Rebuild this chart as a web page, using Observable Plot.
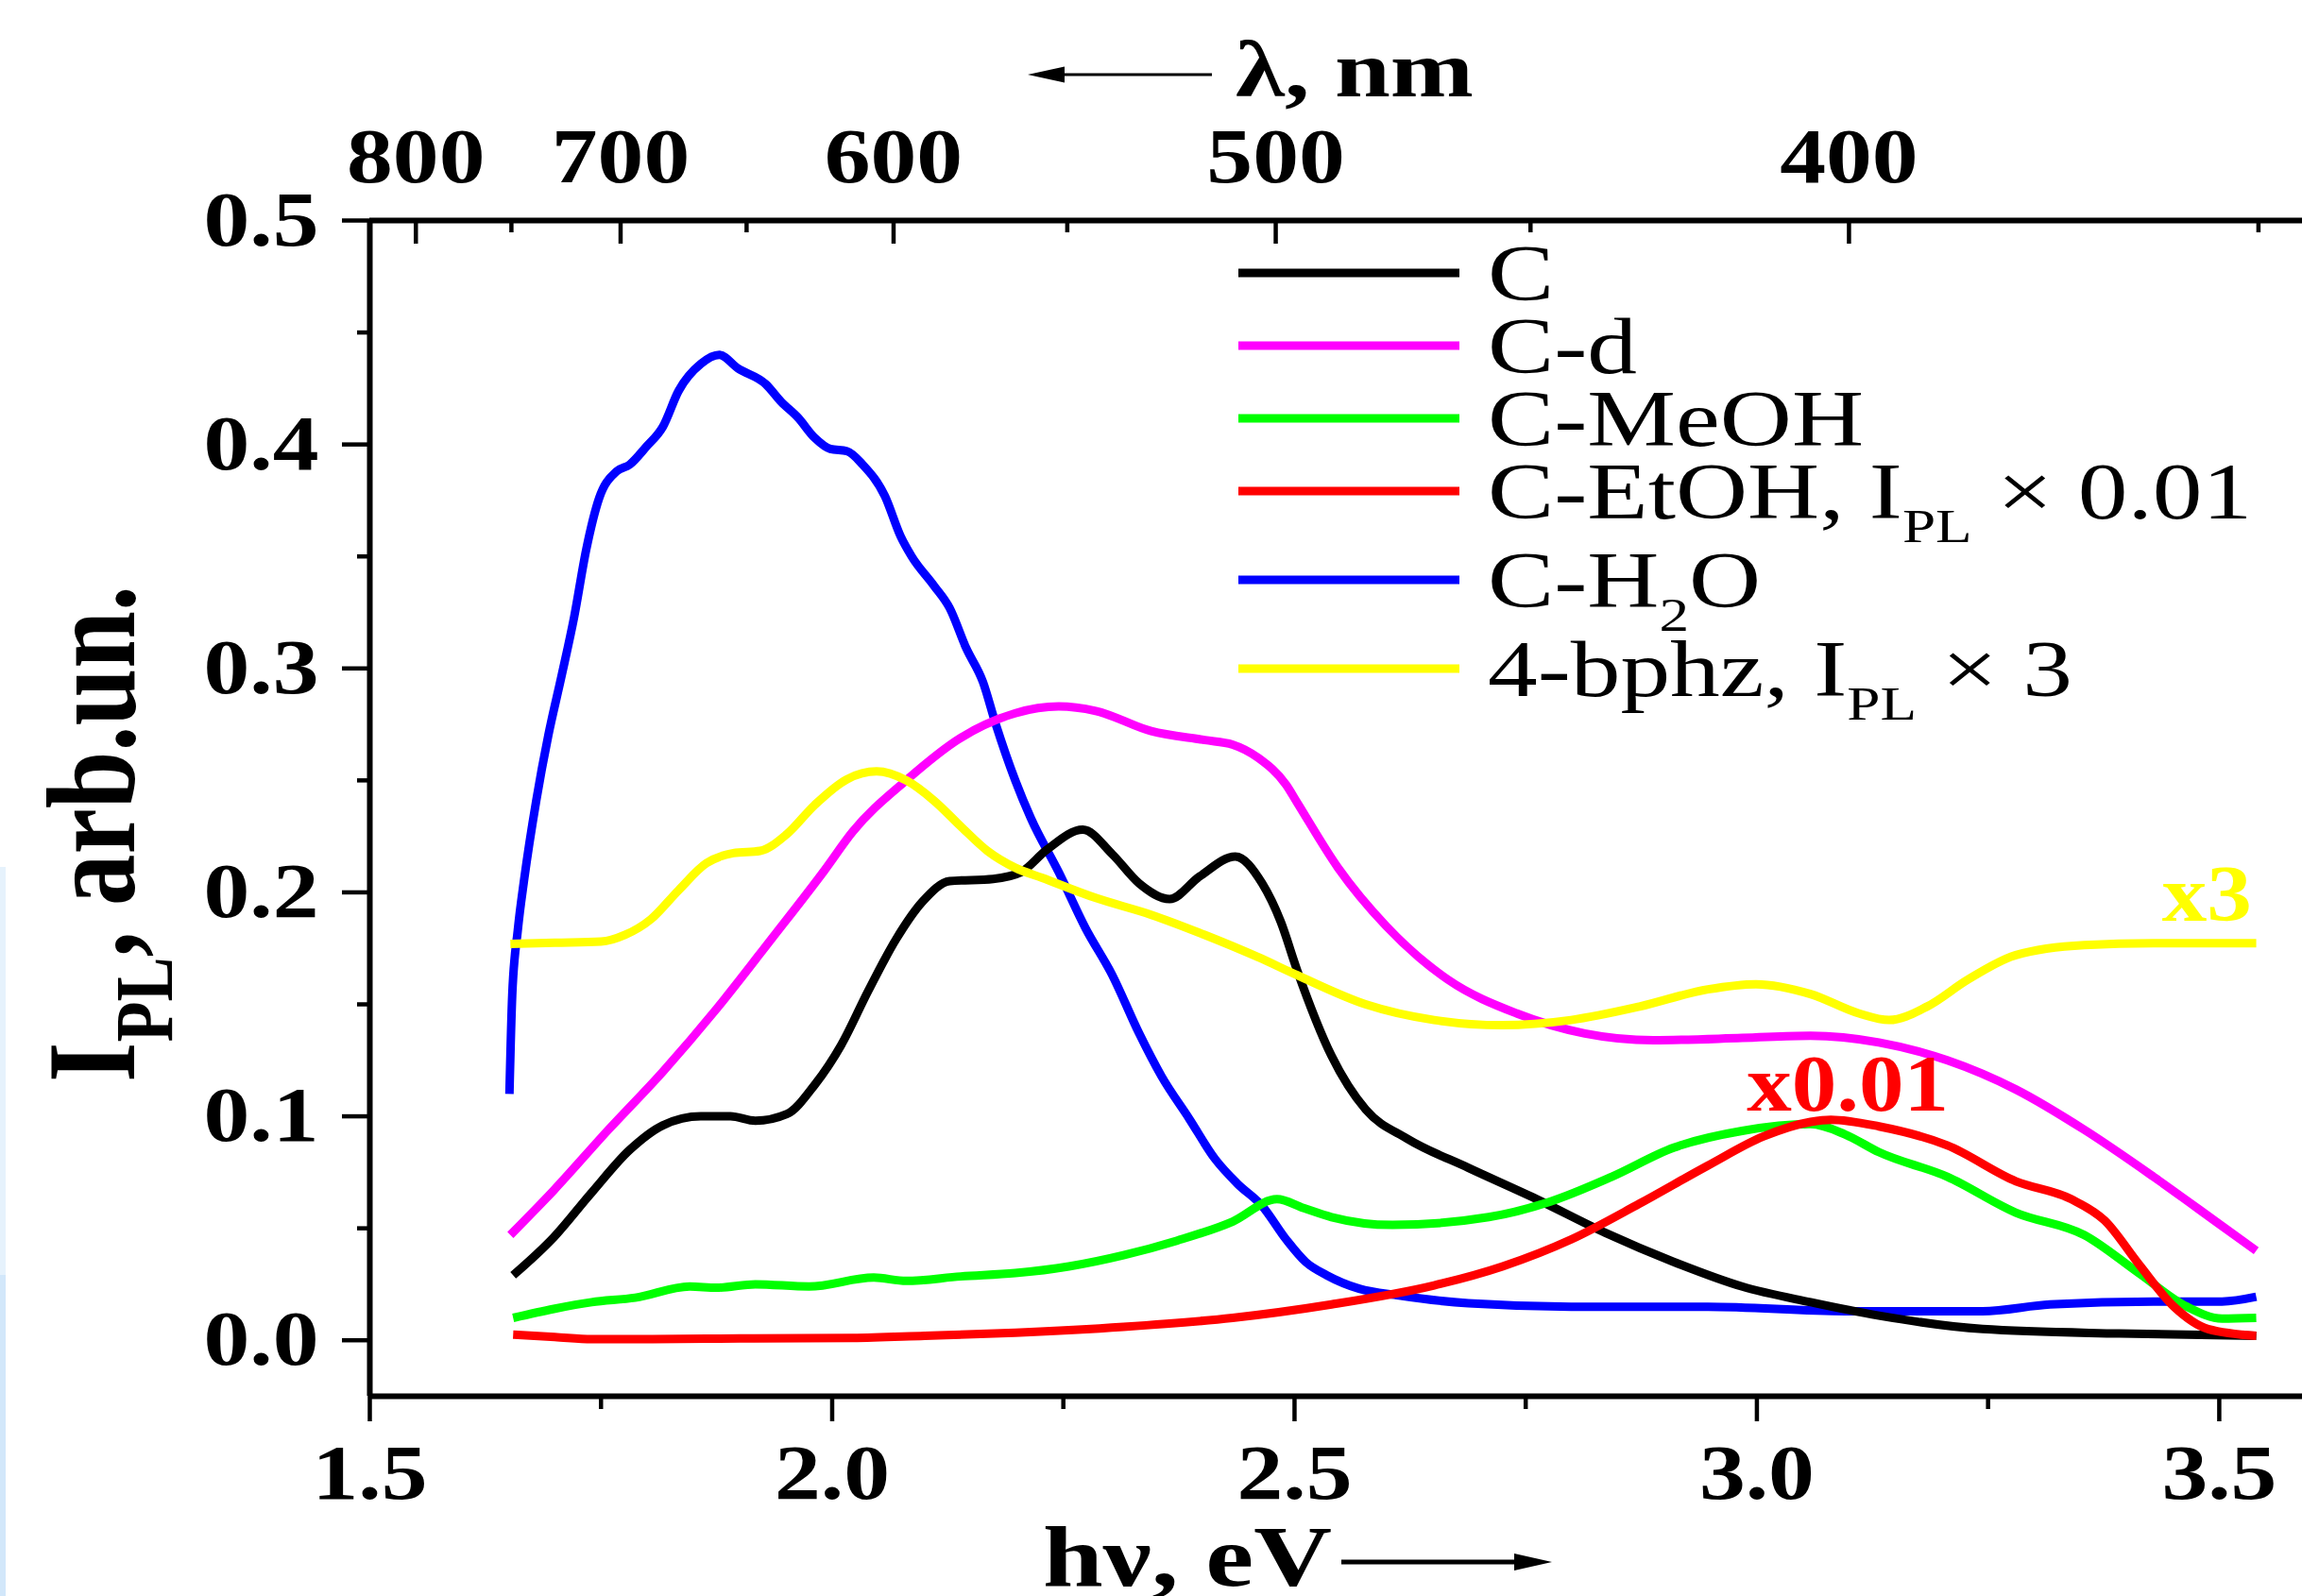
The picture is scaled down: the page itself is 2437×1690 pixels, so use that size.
<!DOCTYPE html>
<html>
<head>
<meta charset="utf-8">
<script src="https://cdn.jsdelivr.net/npm/d3@7"></script>
<script src="https://cdn.jsdelivr.net/npm/@observablehq/plot@0.6"></script>
<style>
  html, body { margin: 0; padding: 0; background: #ffffff; overflow: hidden; }
  #chart { width: 2437px; height: 1690px; overflow: hidden; }
</style>
</head>
<body>
<div id="chart"></div>
<script>
// ---------- data ----------
const HC = 1239.84; // eV·nm

const seriesNames = ["C", "C-d", "C-MeOH", "C-EtOH, I_{PL} × 0.01", "C-H_{2}O", "4-bphz, I_{PL} × 3"];
const seriesColors = ["#000000", "#ff00ff", "#00ff00", "#ff0000", "#0000ff", "#ffff00"];

const ev_C = [1.655,1.699,1.740,1.781,1.817,1.858,1.890,1.917,1.951,1.981,2.010,2.039,2.069,2.098,2.127,2.174,2.204,2.232,2.271,2.303,2.332,2.365,2.397,2.436,2.465,2.485,2.503,2.540,2.577,2.622,2.688,2.762,2.836,2.910,2.984,3.058,3.132,3.244,3.392,3.540];
const int_C = [0.029,0.046,0.066,0.085,0.096,0.100,0.100,0.098,0.101,0.114,0.132,0.156,0.179,0.196,0.205,0.206,0.209,0.219,0.228,0.217,0.204,0.197,0.207,0.216,0.204,0.187,0.165,0.127,0.103,0.090,0.077,0.063,0.048,0.035,0.024,0.017,0.011,0.005,0.003,0.002];

const ev_Cd = [1.652,1.699,1.758,1.817,1.875,1.934,1.992,2.022,2.080,2.139,2.198,2.245,2.285,2.345,2.403,2.433,2.461,2.491,2.503,2.547,2.599,2.666,2.740,2.814,2.888,2.984,3.058,3.132,3.206,3.280,3.354,3.429,3.503,3.540];
const int_Cd = [0.047,0.067,0.094,0.120,0.148,0.179,0.210,0.227,0.250,0.269,0.280,0.283,0.281,0.272,0.268,0.266,0.260,0.248,0.240,0.211,0.185,0.161,0.146,0.137,0.134,0.135,0.136,0.133,0.125,0.112,0.094,0.073,0.051,0.040];

const ev_MeOH = [1.655,1.699,1.740,1.787,1.846,1.875,1.917,1.975,2.045,2.080,2.139,2.198,2.256,2.315,2.373,2.433,2.481,2.510,2.540,2.606,2.710,2.777,2.843,2.910,2.984,3.058,3.095,3.132,3.206,3.280,3.354,3.413,3.465,3.503,3.540];
const int_MeOH = [0.010,0.014,0.017,0.019,0.024,0.0235,0.025,0.024,0.028,0.0265,0.0285,0.030,0.033,0.038,0.0445,0.053,0.063,0.059,0.055,0.0515,0.055,0.062,0.073,0.086,0.0935,0.0965,0.092,0.084,0.073,0.057,0.047,0.030,0.015,0.0097,0.010];

const ev_EtOH = [1.655,1.700,1.740,1.800,1.900,2.022,2.100,2.198,2.315,2.433,2.540,2.651,2.725,2.799,2.873,2.947,3.007,3.058,3.080,3.132,3.206,3.280,3.340,3.376,3.413,3.451,3.488,3.540];
const int_EtOH = [0.0025,0.0015,0.0005,0.0005,0.0008,0.001,0.002,0.0034,0.006,0.010,0.016,0.0245,0.033,0.045,0.061,0.078,0.091,0.0975,0.0985,0.0955,0.087,0.071,0.063,0.0535,0.034,0.015,0.005,0.002];

const ev_H2O = [1.651,1.654,1.660,1.667,1.680,1.693,1.707,1.721,1.734,1.748,1.767,1.781,1.799,1.817,1.834,1.858,1.878,1.898,1.928,1.945,1.963,1.981,1.998,2.016,2.033,2.057,2.074,2.086,2.110,2.127,2.145,2.163,2.177,2.198,2.215,2.245,2.274,2.303,2.332,2.356,2.386,2.414,2.438,2.465,2.491,2.512,2.535,2.570,2.613,2.688,2.799,2.947,3.095,3.244,3.317,3.429,3.503,3.540];
const int_H2O = [0.110,0.154,0.183,0.206,0.241,0.270,0.296,0.323,0.353,0.376,0.388,0.391,0.399,0.408,0.424,0.436,0.440,0.434,0.427,0.419,0.412,0.403,0.398,0.397,0.391,0.377,0.359,0.350,0.337,0.327,0.309,0.294,0.275,0.250,0.233,0.209,0.184,0.163,0.137,0.118,0.099,0.081,0.070,0.060,0.045,0.035,0.029,0.023,0.020,0.0165,0.015,0.015,0.013,0.013,0.016,0.0173,0.0173,0.0194];

const ev_bphz = [1.652,1.700,1.750,1.776,1.804,1.834,1.864,1.893,1.922,1.951,1.981,2.016,2.048,2.080,2.110,2.139,2.168,2.198,2.227,2.285,2.345,2.403,2.461,2.503,2.577,2.651,2.725,2.799,2.873,2.947,2.999,3.058,3.110,3.143,3.184,3.228,3.280,3.354,3.429,3.540];
const int_bphz = [0.177,0.1775,0.178,0.181,0.188,0.201,0.213,0.2175,0.2185,0.226,0.239,0.2505,0.254,0.250,0.241,0.2295,0.2185,0.211,0.2065,0.1975,0.190,0.181,0.171,0.163,0.150,0.143,0.1407,0.143,0.149,0.1567,0.159,0.1546,0.146,0.143,0.149,0.161,0.172,0.1765,0.1773,0.1773];

const xDomain = [1.5, 3.59];
const yDomain = [-0.025, 0.5];
const xMajor = [1.5, 2.0, 2.5, 3.0, 3.5];
const xMinor = [1.75, 2.25, 2.75, 3.25];
const yMajor = [0.0, 0.1, 0.2, 0.3, 0.4, 0.5];
const yMinor = [0.05, 0.15, 0.25, 0.35, 0.45];
const nmMajor = [800, 700, 600, 500, 400];
const nmMinor = [750, 650, 550, 450, 350];

const annotations = [
  {label: "x3", ev: 3.438, I: 0.1874, color: "#ffff00"},
  {label: "x0.01", ev: 2.989, I: 0.1024, color: "#ff0000"}
];

// ---------- table ----------
const seriesData = [
  {name: seriesNames[0], color: seriesColors[0], ev: ev_C, I: int_C},
  {name: seriesNames[1], color: seriesColors[1], ev: ev_Cd, I: int_Cd},
  {name: seriesNames[2], color: seriesColors[2], ev: ev_MeOH, I: int_MeOH},
  {name: seriesNames[3], color: seriesColors[3], ev: ev_EtOH, I: int_EtOH},
  {name: seriesNames[4], color: seriesColors[4], ev: ev_H2O, I: int_H2O},
  {name: seriesNames[5], color: seriesColors[5], ev: ev_bphz, I: int_bphz}
];
const rows = seriesData.flatMap(s => s.ev.map((e, i) => ({series: s.name, ev: e, I: s.I[i]})));
const drawOrder = [4, 0, 1, 2, 3, 5];

// ---------- fonts ----------
function fontAvailable(name) {
  const ctx = document.createElement("canvas").getContext("2d");
  const s = "abcdefghijklmnopqrstuvwxyz ABCDEFGHIJKLMNOP 0123456789 C-MeOH";
  return ["monospace", "sans-serif", "serif"].some(fb => {
    ctx.font = `72px ${fb}`; const a = ctx.measureText(s).width;
    ctx.font = `72px '${name}', ${fb}`; const b = ctx.measureText(s).width;
    return Math.abs(a - b) > 0.5;
  });
}
const hasLib = fontAvailable("Liberation Serif");
const FONT = hasLib ? "'Liberation Serif', 'Times New Roman', serif" : "'DejaVu Serif', serif";
const CAP = hasLib ? 0.662 : 0.729; // cap / digit height as fraction of font size

const tickSizeFont = Math.round(54 / CAP);
const annoFont = Math.round(56 / CAP);
const legendFont = Math.round(56 / CAP);
const legendSub = Math.round(34 / CAP);
const topFont = Math.round(56 / CAP);
const bottomFont = Math.round(60 / CAP);
const yTitleFont = Math.round(88 / CAP);
const yTitleSub = Math.round(57 / CAP);

// ---------- layout ----------
const W = 2437, H = 1690;
const mTop = 233, mBottom = 212, mLeft = 391, mRight = 0;
const plotH = H - mTop - mBottom;
const toEV = nm => HC / nm;

function richText(t, str, baseSize, subSize, shift) {
  const parts = str.split(/(_\{[^}]*\})/).filter(p => p.length);
  let shifted = false;
  for (const p of parts) {
    const m = p.match(/^_\{(.*)\}$/);
    if (m) {
      t.append("tspan").attr("font-size", subSize).attr("dy", shift).text(m[1]);
      shifted = true;
    } else {
      const s = t.append("tspan").attr("font-size", baseSize).text(p);
      if (shifted) { s.attr("dy", -shift); shifted = false; }
    }
  }
}

function legendMark(index, scales, values, dims) {
  const g = d3.create("svg:g").attr("class", "own").attr("font-family", FONT)
    .attr("font-weight", "normal").attr("text-anchor", "start");
  let base = dims.marginTop + 84.5;
  seriesNames.forEach((name, i) => {
    if (i > 0) base += 77 + (seriesNames[i - 1].includes("_{") ? 17 : 0);
    g.append("line")
      .attr("x1", 1311).attr("x2", 1545)
      .attr("y1", base - 28.5).attr("y2", base - 28.5)
      .attr("stroke", seriesColors[i]).attr("stroke-width", 9);
    const t = g.append("text").attr("class", "legend-text")
      .attr("transform", `translate(1575,${base})`)
      .attr("font-size", legendFont).attr("fill", "#000").style("white-space", "pre");
    richText(t, name, legendFont, legendSub, 25);
  });
  return g.node();
}

function titlesMark(index, scales, values, dims) {
  const g = d3.create("svg:g").attr("class", "own").attr("font-family", FONT)
    .attr("font-weight", "bold").attr("fill", "#000").attr("text-anchor", "start");
  // light strip at the left edge of the original picture
  g.append("rect").attr("x", 0).attr("y", 918).attr("width", 6).attr("height", 432).attr("fill", "#e6f2fc");
  g.append("rect").attr("x", 0).attr("y", 1350).attr("width", 6).attr("height", 340).attr("fill", "#d2e7fa");
  // top title with arrow pointing left
  g.append("line").attr("x1", 1283).attr("x2", 1115).attr("y1", 79).attr("y2", 79).attr("stroke", "#000").attr("stroke-width", 3);
  g.append("path").attr("d", "M1088,79L1127,70.5L1127,87.5Z");
  g.append("text").attr("id", "top-title").attr("transform", "translate(1308,102)")
    .attr("font-size", topFont).style("white-space", "pre").text("λ, nm");
  // bottom title with arrow pointing right
  g.append("text").attr("id", "bottom-title").attr("transform", "translate(1104,1679)")
    .attr("font-size", bottomFont).style("white-space", "pre").text("hν, eV");
  g.append("line").attr("x1", 1420).attr("x2", 1612).attr("y1", 1654).attr("y2", 1654).attr("stroke", "#000").attr("stroke-width", 5);
  g.append("path").attr("d", "M1643,1654L1603,1645L1603,1663Z");
  // y title (rotated)
  const t = g.append("text").attr("id", "y-title")
    .attr("transform", "translate(142,883) rotate(-90)")
    .attr("text-anchor", "middle").attr("font-size", yTitleFont).style("white-space", "pre");
  richText(t, "I_{PL}, arb.un.", yTitleFont, yTitleSub, 40);
  return g.node();
}

const lineMarks = drawOrder.map(i => Plot.line(rows.filter(r => r.series === seriesNames[i]), {
  x: "ev", y: "I", stroke: seriesColors[i], strokeWidth: 9,
  curve: "monotone-x", strokeLinejoin: "round", strokeLinecap: "butt"
}));

const annotationMarks = annotations.map(a => Plot.text([a], {
  x: "ev", y: "I", text: "label", fill: a.color,
  fontSize: annoFont, fontWeight: "bold", textAnchor: "start", lineAnchor: "bottom"
}));

const plot = Plot.plot({
  width: W, height: H,
  marginLeft: mLeft, marginRight: mRight, marginTop: mTop, marginBottom: mBottom,
  x: {domain: xDomain, label: null},
  y: {domain: yDomain, label: null},
  style: {fontFamily: FONT, fontSize: tickSizeFont + "px", fontWeight: "bold", background: "#ffffff", color: "#000000"},
  marks: [
    titlesMark,
    Plot.ruleX([xDomain[0]], {stroke: "#000", strokeWidth: 6}),
    Plot.ruleY([yDomain[1]], {stroke: "#000", strokeWidth: 6}),
    Plot.ruleY([yDomain[0]], {stroke: "#000", strokeWidth: 6}),
    Plot.axisY({ticks: yMajor, tickSize: 29, tickPadding: 25, tickFormat: d3.format(".1f"),
      strokeWidth: 4.5, fontSize: tickSizeFont, fontWeight: "bold", label: null}),
    Plot.axisY({ticks: yMinor, tickSize: 13, strokeWidth: 4.5, fill: "none", label: null}),
    Plot.axisX({anchor: "bottom", ticks: xMajor, tickSize: 27, tickPadding: Math.round(81 - 0.71 * tickSizeFont),
      tickFormat: d3.format(".1f"), strokeWidth: 4.5, fontSize: tickSizeFont, fontWeight: "bold", label: null}),
    Plot.axisX({anchor: "bottom", ticks: xMinor, tickSize: 14, strokeWidth: 4.5, fill: "none", label: null}),
    Plot.axisX({anchor: "top", ticks: nmMajor.map(toEV), tickSize: 0, tickPadding: 41,
      tickFormat: e => String(Math.round(HC / e)), fontSize: tickSizeFont, fontWeight: "bold", label: null}),
    Plot.tickX(nmMajor, {x: toEV, insetBottom: plotH - 25, stroke: "#000", strokeWidth: 4.5}),
    Plot.tickX(nmMinor, {x: toEV, insetBottom: plotH - 13, stroke: "#000", strokeWidth: 4.5}),
    ...lineMarks,
    ...annotationMarks,
    legendMark
  ]
});

document.getElementById("chart").appendChild(plot);

// ---------- match the horizontally stretched lettering of the original ----------
function applyStretch(els, sample, target) {
  if (!sample || !els.length) return;
  const w = sample.getBBox().width;
  if (!(w > 0)) return;
  const s = target / w;
  els.forEach(el => el.setAttribute("transform", (el.getAttribute("transform") || "") + ` scale(${s.toFixed(4)},1)`));
}
const svgSel = d3.select(plot);
const plotTexts = svgSel.selectAll("text").filter(function () { return !this.closest(".own"); }).nodes();
const tickTexts = plotTexts.filter(el => el.closest('g[aria-label$="tick label"]'));
const annoTexts = plotTexts.filter(el => !el.closest('g[aria-label$="tick label"]'));
applyStretch(tickTexts, tickTexts.find(el => el.textContent.trim() === "2.5"), 122);
applyStretch(annoTexts, annoTexts.find(el => el.textContent.trim() === "x0.01"), 214);
const legendTexts = svgSel.selectAll(".legend-text").nodes();
applyStretch(legendTexts, legendTexts.find(el => el.textContent === "C-MeOH"), 398);
const topT = plot.querySelector("#top-title");
applyStretch([topT], topT, 252);
const botT = plot.querySelector("#bottom-title");
applyStretch([botT], botT, 306);
const yT = plot.querySelector("#y-title");
applyStretch([yT], yT, 526);
</script>
</body>
</html>
